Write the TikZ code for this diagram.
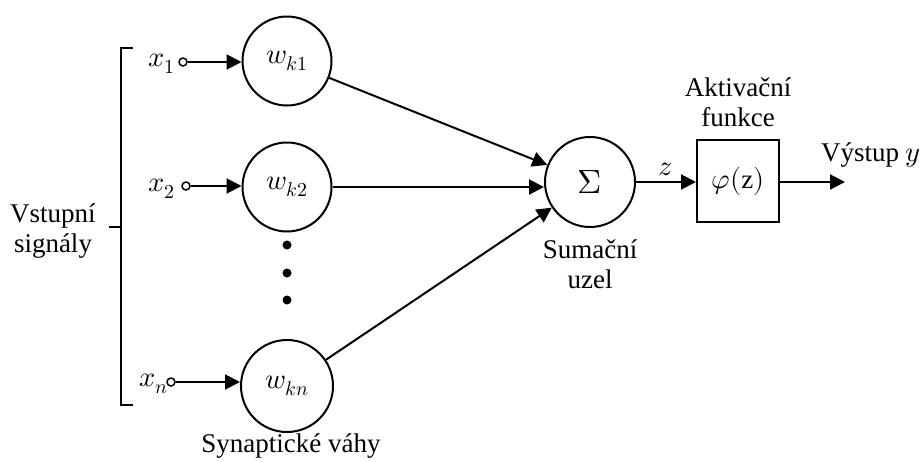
\documentclass[tikz,border=0pt]{standalone}
\usepackage{unicode-math}
\setmainfont{Liberation Serif}
\setmathfont{Latin Modern Math}[Scale=1.05]
\usetikzlibrary{arrows.meta}
\begin{document}
\begin{tikzpicture}[x=1pt,y=-1pt,
  every node/.style={font=\fontsize{27}{30}\selectfont},
  line/.style={line width=2pt},
  arr/.style={line width=2pt, -{Triangle[length=15pt,width=15pt]}},
  weight/.style={draw, circle, line width=2pt, minimum size=89pt, inner sep=0pt},
  tap/.style={draw, circle, line width=1.5pt, minimum size=8pt, inner sep=0pt, fill=white},
  dot/.style={fill, circle, minimum size=9pt, inner sep=0pt},
  lbl/.style={align=center, inner sep=0pt}]
\useasboundingbox (0,0) rectangle (920,461);

% weights
\node[weight] (w1) at (287,61) {$w_{k1}$};
\node[weight] (w2) at (287,187) {$w_{k2}$};
\node[weight, minimum size=92pt] (wn) at (287,386) {$w_{kn}$};
\node[dot] (d1) at (287,245) {};
\node[dot] (d2) at (287,273) {};
\node[dot] (d3) at (287,300) {};

% inputs
\node[lbl] (x1) at (162,64) {$x_1$};
\node[tap] (t1) at (183,62) {};
\node[lbl] (x2) at (162,189) {$x_2$};
\node[tap] (t2) at (186,186) {};
\node[lbl] (xn) at (154,384) {$x_n$};
\node[tap] (tn) at (171,382) {};
\draw[arr] (t1) -- (t1 -| w1.west);
\draw[arr] (t2) -- (t2 -| w2.west);
\draw[arr] (tn) -- (tn -| wn.west);

% input bracket
\coordinate (bt) at (133,48);
\coordinate (bb) at (133,405);
\coordinate (bm) at (109,227);
\draw[line] (bt) -- (121,48) -- (121,405) -- (bb);
\draw[line] (121,227) -- (bm);
\node[lbl] (vs) at (53,231) {Vstupní\\signály};

% summation
\node[weight, minimum size=90pt] (sum) at (590,182) {\fontsize{32}{32}\selectfont$\Sigma$};
\draw[arr] (w1) -- (sum);
\draw[arr] (w2.east) -- (sum.west |- w2.east);
\draw[arr] (wn) -- (sum);
\node[lbl] (sl) at (590,264) {Sumační\\uzel};

% activation
\node[draw, line width=2pt, minimum size=82pt, inner sep=0pt] (act) at (738,181) {$\varphi(\mathrm{z})$};
\draw[arr] (sum.east) -- node[above=5pt, inner sep=0pt] {$z$} (act.west |- sum.east);
\node[lbl] (al) at (738,102) {Aktivační\\funkce};
\coordinate (out) at (845,182);
\draw[arr] (act.east |- out) -- (out);
\node[lbl, anchor=west] (yl) at (821,155) {Výstup $y$};

\node[lbl] (sv) at (291,446) {Synaptické váhy};
\end{tikzpicture}
\end{document}
